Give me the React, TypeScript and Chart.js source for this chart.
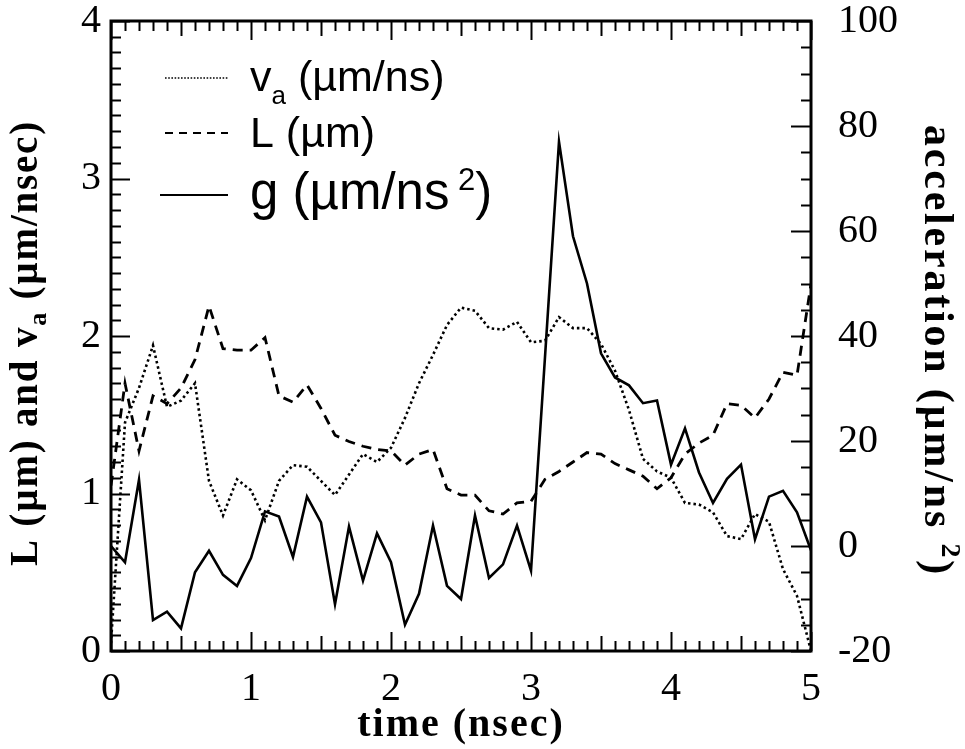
import React, { useEffect, useRef } from "react";
import { Chart, registerables } from "chart.js";

Chart.register(...registerables);

// ---- data ----
const times = [
  0.0, 0.1, 0.2, 0.3, 0.4, 0.5, 0.6, 0.7, 0.8, 0.9,
  1.0, 1.1, 1.2, 1.3, 1.4, 1.5, 1.6, 1.7, 1.8, 1.9,
  2.0, 2.1, 2.2, 2.3, 2.4, 2.5, 2.6, 2.7, 2.8, 2.9,
  3.0, 3.1, 3.2, 3.3, 3.4, 3.5, 3.6, 3.7, 3.8, 3.9,
  4.0, 4.1, 4.2, 4.3, 4.4, 4.5, 4.6, 4.7, 4.8, 4.9, 5.0,
];

// v_a (µm/ns) - dotted, left axis
const velocity = [
  0.05, 1.45, 1.67, 1.94, 1.55, 1.59, 1.7, 1.08, 0.86, 1.09,
  1.02, 0.83, 1.08, 1.18, 1.17, 1.08, 0.99, 1.12, 1.25, 1.2,
  1.29, 1.48, 1.7, 1.88, 2.07, 2.18, 2.16, 2.05, 2.04, 2.09,
  1.96, 1.97, 2.12, 2.05, 2.05, 1.95, 1.78, 1.53, 1.22, 1.14,
  1.1, 0.94, 0.93, 0.88, 0.73, 0.71, 0.87, 0.82, 0.52, 0.35, 0.0,
];

// L (µm) - dashed, left axis
const lengthL = [
  1.05, 1.7, 1.27, 1.62, 1.57, 1.67, 1.85, 2.19, 1.92, 1.91,
  1.91, 1.99, 1.62, 1.58, 1.69, 1.54, 1.37, 1.33, 1.3, 1.28,
  1.27, 1.18, 1.25, 1.28, 1.03, 0.99, 0.99, 0.89, 0.87, 0.94,
  0.95, 1.09, 1.14, 1.2, 1.26, 1.25, 1.19, 1.15, 1.11, 1.03,
  1.1, 1.25, 1.32, 1.37, 1.57, 1.56, 1.48, 1.6, 1.77, 1.75, 2.33,
];

// g (µm/ns²) - solid, right axis
const accel = [
  0, -3.1, 12.6, -14.1, -12.5, -15.7, -5.0, -0.9, -5.5, -7.6,
  -2.3, 6.6, 5.6, -2.1, 9.4, 4.5, -11.1, 3.7, -6.6, 2.4,
  -3.1, -15.0, -9.1, 3.9, -7.6, -10.1, 5.8, -6.1, -3.5, 3.9,
  -4.7, 36, 77, 59, 50, 36.7, 32.1, 30.6, 27.2, 27.7,
  15.5, 22.4, 14.0, 8.2, 12.8, 15.5, 1.3, 9.4, 10.5, 6.4, -0.8,
];

const xTickValues = [0, 1, 2, 3, 4, 5];
const leftTickValues = [0, 1, 2, 3, 4];
const rightTickValues = [-20, 0, 20, 40, 60, 80, 100];

const X_MINOR = 0.1;
const LEFT_MINOR = 0.1;
const RIGHT_MINOR = 5;

const SERIF = '"Liberation Serif", "Times New Roman", serif';
const SANS = '"Liberation Sans", Arial, Helvetica, sans-serif';

type Part = { text: string; font: string; dy?: number };

function drawRich(ctx: CanvasRenderingContext2D, parts: Part[], x: number, y: number, align: "left" | "center") {
  let total = 0;
  const widths: number[] = [];
  for (const p of parts) {
    ctx.font = p.font;
    const w = ctx.measureText(p.text).width;
    widths.push(w);
    total += w;
  }
  let cx = align === "center" ? x - total / 2 : x;
  ctx.textAlign = "left";
  ctx.textBaseline = "alphabetic";
  parts.forEach((p, i) => {
    ctx.font = p.font;
    ctx.fillText(p.text, cx, y + (p.dy || 0));
    cx += widths[i];
  });
}

function seg(ctx: CanvasRenderingContext2D, x1: number, y1: number, x2: number, y2: number) {
  ctx.beginPath();
  ctx.moveTo(x1, y1);
  ctx.lineTo(x2, y2);
  ctx.stroke();
}

const framePlugin = {
  id: "frameTicks",
  afterDatasetsDraw(chart: any) {
    const { ctx, chartArea: a, scales } = chart;
    const sx = scales.x;
    const sy = scales.y;
    const sy1 = scales.y1;
    ctx.save();
    ctx.strokeStyle = "#000";
    ctx.setLineDash([]);
    ctx.lineCap = "butt";
    ctx.lineWidth = 2;
    // x ticks (bottom & top, pointing inward)
    const xMin = xTickValues[0];
    const xMax = xTickValues[xTickValues.length - 1];
    const nX = Math.round((xMax - xMin) / X_MINOR);
    for (let i = 0; i <= nX; i++) {
      const v = xMin + i * X_MINOR;
      const px = Math.round(sx.getPixelForValue(v)) + 0.5;
      const len = i % 10 === 0 ? 19 : i % 5 === 0 ? 15 : 10;
      seg(ctx, px, a.bottom, px, a.bottom - len);
      seg(ctx, px, a.top, px, a.top + len);
    }
    // left ticks
    const lMin = leftTickValues[0];
    const lMax = leftTickValues[leftTickValues.length - 1];
    const nL = Math.round((lMax - lMin) / LEFT_MINOR);
    for (let i = 0; i <= nL; i++) {
      const v = lMin + i * LEFT_MINOR;
      const py = Math.round(sy.getPixelForValue(v)) + 0.5;
      const len = i % 10 === 0 ? 19 : 10;
      seg(ctx, a.left, py, a.left + len, py);
    }
    // right ticks
    const rMin = rightTickValues[0];
    const rMax = rightTickValues[rightTickValues.length - 1];
    const nR = Math.round((rMax - rMin) / RIGHT_MINOR);
    for (let i = 0; i <= nR; i++) {
      const v = rMin + i * RIGHT_MINOR;
      const py = Math.round(sy1.getPixelForValue(v)) + 0.5;
      const len = i % 4 === 0 ? 20 : 10;
      seg(ctx, a.right, py, a.right - len, py);
    }
    // frame
    ctx.lineWidth = 3;
    ctx.strokeRect(a.left, a.top, a.right - a.left, a.bottom - a.top);
    ctx.restore();
  },
};

const textPlugin = {
  id: "texts",
  afterDraw(chart: any) {
    const { ctx, chartArea: a } = chart;
    ctx.save();
    ctx.fillStyle = "#000";
    const anyCtx = ctx as any;

    // x title
    anyCtx.letterSpacing = "2px";
    drawRich(ctx, [{ text: "time (nsec)", font: `bold 40px ${SERIF}` }], (a.left + a.right) / 2, 736, "center");

    // left title (rotated -90)
    ctx.save();
    ctx.translate(37, 343);
    ctx.rotate(-Math.PI / 2);
    anyCtx.letterSpacing = "1.8px";
    drawRich(
      ctx,
      [
        { text: "L (µm) and v", font: `bold 39px ${SERIF}` },
        { text: "a", font: `bold 26px ${SERIF}`, dy: 9 },
        { text: " (µm/nsec)", font: `bold 39px ${SERIF}` },
      ],
      0,
      0,
      "center"
    );
    ctx.restore();

    // right title (rotated +90)
    ctx.save();
    ctx.translate(925, 351);
    ctx.rotate(Math.PI / 2);
    anyCtx.letterSpacing = "2.8px";
    drawRich(
      ctx,
      [
        { text: "acceleration (µm/ns ", font: `bold 42px ${SERIF}` },
        { text: "2", font: `bold 28px ${SERIF}`, dy: -17 },
        { text: ")", font: `bold 42px ${SERIF}` },
      ],
      0,
      0,
      "center"
    );
    ctx.restore();

    anyCtx.letterSpacing = "0px";

    // legend
    ctx.strokeStyle = "#000";
    ctx.lineCap = "butt";
    ctx.lineWidth = 1.6;
    ctx.setLineDash([1.6, 1.6]);
    seg(ctx, 165, 78, 228, 78);
    ctx.lineWidth = 2;
    ctx.setLineDash([8, 6]);
    seg(ctx, 165, 133, 228, 133);
    ctx.setLineDash([]);
    seg(ctx, 160, 195, 228, 195);

    drawRich(
      ctx,
      [
        { text: "v", font: `43px ${SANS}` },
        { text: "a", font: `26px ${SANS}`, dy: 13 },
        { text: " (µm/ns)", font: `43px ${SANS}` },
      ],
      250,
      91,
      "left"
    );
    drawRich(ctx, [{ text: "L (µm)", font: `43px ${SANS}` }], 250, 147, "left");
    drawRich(
      ctx,
      [
        { text: "g (µm/ns", font: `51px ${SANS}` },
        { text: " 2", font: `31px ${SANS}`, dy: -19 },
        { text: ")", font: `51px ${SANS}` },
      ],
      250,
      209,
      "left"
    );
    ctx.restore();
  },
};

export default function App() {
  const canvasRef = useRef<HTMLCanvasElement | null>(null);

  useEffect(() => {
    const canvas = canvasRef.current;
    if (!canvas) return;
    const toPts = (ys: number[]) => times.map((t, i) => ({ x: t, y: ys[i] }));
    const tickFont = { family: SERIF, size: 40, weight: "normal" as const };

    const chart = new Chart(canvas, {
      type: "line",
      data: {
        datasets: [
          {
            label: "v_a (µm/ns)",
            data: toPts(velocity),
            yAxisID: "y",
            borderColor: "#000",
            borderWidth: 2.6,
            borderDash: [2.5, 3],
            pointRadius: 0,
            tension: 0,
            fill: false,
          },
          {
            label: "L (µm)",
            data: toPts(lengthL),
            yAxisID: "y",
            borderColor: "#000",
            borderWidth: 2.8,
            borderDash: [10, 7],
            pointRadius: 0,
            tension: 0,
            fill: false,
          },
          {
            label: "g (µm/ns²)",
            data: toPts(accel),
            yAxisID: "y1",
            borderColor: "#000",
            borderWidth: 2.6,
            pointRadius: 0,
            tension: 0,
            fill: false,
          },
        ],
      },
      options: {
        responsive: false,
        animation: false,
        devicePixelRatio: 1,
        layout: { padding: { top: 21, left: 0, right: 0, bottom: 0 } },
        plugins: {
          legend: { display: false },
          tooltip: { enabled: false },
          title: { display: false },
        },
        scales: {
          x: {
            type: "linear",
            min: xTickValues[0],
            max: xTickValues[xTickValues.length - 1],
            afterBuildTicks: (s: any) => {
              s.ticks = xTickValues.map((v) => ({ value: v }));
            },
            afterFit: (s: any) => {
              s.height = 98;
              s.paddingLeft = 0;
              s.paddingRight = 0;
            },
            grid: { display: false, drawTicks: false },
            border: { display: false },
            ticks: { color: "#000", font: tickFont, padding: 14, maxRotation: 0, autoSkip: false },
          },
          y: {
            type: "linear",
            position: "left",
            min: leftTickValues[0],
            max: leftTickValues[leftTickValues.length - 1],
            afterBuildTicks: (s: any) => {
              s.ticks = leftTickValues.map((v) => ({ value: v }));
            },
            afterFit: (s: any) => {
              s.width = 111;
              s.paddingTop = 0;
              s.paddingBottom = 0;
            },
            grid: { display: false, drawTicks: false },
            border: { display: false },
            ticks: { color: "#000", font: tickFont, padding: 10, autoSkip: false },
          },
          y1: {
            type: "linear",
            position: "right",
            min: rightTickValues[0],
            max: rightTickValues[rightTickValues.length - 1],
            afterBuildTicks: (s: any) => {
              s.ticks = rightTickValues.map((v) => ({ value: v }));
            },
            afterFit: (s: any) => {
              s.width = 154;
              s.paddingTop = 0;
              s.paddingBottom = 0;
            },
            grid: { display: false, drawTicks: false },
            border: { display: false },
            ticks: { color: "#000", font: tickFont, padding: 27, autoSkip: false },
          },
        },
      },
      plugins: [framePlugin, textPlugin],
    });

    return () => {
      chart.destroy();
    };
  }, []);

  return (
    <div style={{ position: "fixed", left: 0, top: 0, width: 965, height: 749, background: "#fff" }}>
      <canvas ref={canvasRef} width={965} height={749} style={{ width: 965, height: 749, display: "block" }} />
    </div>
  );
}
